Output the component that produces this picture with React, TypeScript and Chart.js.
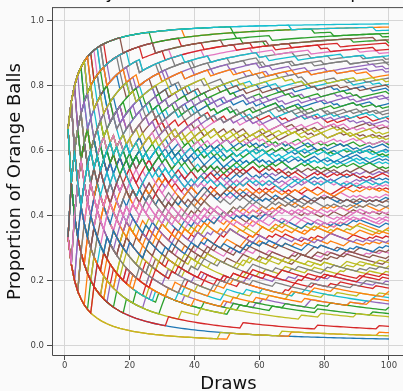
import { useEffect, useRef } from 'react';
import { Chart, registerables } from 'chart.js';

Chart.register(...registerables);

// ---- data -------------------------------------------------------------
const TITLE = 'Polya Urn (100 draws, 100 steps)';
const X_LABEL = 'Draws';
const Y_LABEL = 'Proportion of Orange Balls';
const X_TICKS = [0, 20, 40, 60, 80, 100];
const Y_TICKS = [0.0, 0.2, 0.4, 0.6, 0.8, 1.0];
const INITIAL_ORANGE = 1;
const INITIAL_BALLS = 2;
const DRAW_COUNT = 100;

// Each path: the 100 draws, hex encoded (bit 1 = orange ball drawn), first draw = most significant bit.
const DRAW_PATHS = [
  '40000 00000 00000 00000 00000',
  '00000 00000 00200 00400 00008',
  'B5E6A 7D9E6 CB375 EAF1D 6B9DC',
  '80120 0A014 30040 01608 48010',
  'FEFBD 7FDFE FBF6F DF7EF EFFBD',
  '58C4A 31926 A460D 9C251 638A4',
  '4A109 03824 C0512 20609 850A4',
  'D7F9B E6BD7 F5EBD 7CF3E BD6F7',
  '00000 00000 01000 02000 00000',
  'FFFFF FFFFF FFFFF FFFFF FFFFF',
  '9A65C 3E4D1 7A5B2 C693A 5D86A',
  'FFFFF FFFF7 FFFFF FFFFF FFFFF',
  'FF7FF FEFFF FFFDF BFFFF FF7FE',
  '94A06 150C2 8360A 29054 C1852',
  '10040 0A008 00402 80030 01080',
  'B6DA7 EF53E 9DB67 7ECDB D5FA6',
  '5A1C6 938E4 6C59A B2607 38A56',
  'FFEF7 DFFBF F7FFE FFDEF BFEFD',
  '20904 0610A 80051 43028 0A042',
  '7AD5C 6B395 E5A79 C6D2B 9E5BA',
  'FD7F6 BEFD7 7F9FE EBDFB D7F5E',
  'A2506 30C19 6A50C 1903A 58603',
  '01002 40800 00300 10004 00020',
  'D6FB9 7E5DB F3BE6 ED7BA 6FD9E',
  '6DA59 B4C36 5E9AC 37A1C D659A',
  '81A04 0520C 90461 20381 4A003',
  'FFBFF FEF7F DFFFB F7FEF FFDF7',
  '952E4 A631C 709A6 4C53A 86952',
  '20090 04102 80044 00A01 10208',
  'FDB7E EF6FD 7FEFB DBF9F FE7DB',
  'C79DA 5BE63 DA376 9E5BA 63DCE',
  '85062 1A409 60C31 09258 430A4',
  'FFFFF FFFFF FFEFF FFFF7 DFFFF',
  'A5C36 91E4A 6B2D1 58A6C 3D94A',
  '1080A 04301 20814 08902 40012',
  'E9B5D 6FA73 DC5E7 B3F96 7AD6B',
  '5C09A 38605 A4D21 6098C 1B506',
  'FFD7F EFBFD F7FEF BFDF7 FEFBE',
  '4090C 18062 0A058 30409 02601',
  '75A9C D26B3 AE576 9C3DA 6B95A',
  'FBD67 ED9FB 7F6ED BAF7E D7BCF',
  '6A15C 38946 C0B25 96A23 51C86',
  '08010 00600 20048 01004 40001',
  'FF7FF FFFEF DFF7F FFBFF F7FFE',
  '9C635 A59C3 E26B1 5A369 C3D46',
  '2904A 50861 0C298 8403A 10609',
  'B6FD5 7AE3D DF6BA 9E7BC ECB7D',
  'FEDFB 7FB6F DF7FE FBE9F EDF7F',
  'A1605 4C982 30A51 96148 52C0A',
  '40600 01028 00C10 80240 00030',
  '9D6B5 E3A76 5FCDA B69E3 7A5DC',
  'C5896 3BA0E 64D52 A96C3 1E5A4',
  'FFFFF FDFFF FFF7F EFFFF FFFFB',
  '0A042 18900 02508 40160 80304',
  'DF6B7 FE7DB B9FE7 7FDAF EBCFD',
  '5E96A B3C74 69A5C D2B69 A6E39',
  'C4A15 906B1 3852C 6A294 15C0A',
  'FFEFB DF7FE FFDFE 7FBFE FEFFD',
  '0940A 20C18 500A4 83021 06098',
  '7D9E7 FB6DE AFD5B E7CBD D6FA7',
  '3C685 A4953 E1A61 592C6 8A356',
  '02090 80140 0A500 00418 20003',
  'D5A79 6E3BC 9A75D B6C3E 5D6A5',
  'FFF7F EFDFF FFFFB F7FFD BFFEF',
  '50C1A 83061 94A03 06285 C0491',
  'EF7BD FD6FB BEFAF 7DFEB F6DFE',
  '69AC5 D43A6 5B19C A3E26 9645A',
  '308A0 04092 6100C 08501 A0248',
  '9EB6D D5F36 7CEB7 AD6F5 E97CB',
  'FFFFF FFFFF FFFFF FFBFF FFFEF',
  '94C25 0A619 538A4 C1069 25A06',
  '0A080 40001 00902 20040 01060',
  'BE6FD 7DBAF E5D7B F9EB7 DFAEB',
  'AD569 3C8E6 59BAC E463A 6A95C',
  'FDF7E BFEF7 FFDFE EFBDF 7FFED',
  'C084A 09106 320A8 1050C 46021',
  'DA76B 5E9C7 B6DAE 975E6 EBA5D',
  '59A46 8C30E 60B5A 34968 A52C9',
  '00900 00010 40400 00082 00400',
  'FFDFE EFFF7 F7FFE DFEFF FBF7F',
  '6B95A E3DA6 9C756 AD6B9 57C3A',
  '6A481 05C29 A1603 89254 30614',
  'FBE9F D7AFB EFD6F 7EB7D FD5FE',
  '80501 030A0 40924 06005 10284',
  'F6DB9 EA75F BD6EB 79FD6 DCB5E',
  'FFFFB FEFFF FF7FF DFFFF FFFEF',
  '926A1 C4385 6A19C 0D54A 58629',
  '0C480 20018 05204 08030 10980',
  'BAE97 5D7CB E6B3D 9FA5E 7C9D5',
  '569AC 3DA46 C935A 61EC5 A5396',
  '490A1 0C286 50834 A1062 0941A',
  'FEF7D DFBF7 F7EFB BFDEF EFB9F',
  '9E5A6 D3C69 5A79C B63A5 6D9C5',
  '00800 00100 00020 00004 00008',
  'ED7AF BF6DE F7BED DAF7B 7EBF6',
  '65A38 9C165 3AE14 C5896 A2653',
  '390C6 A1852 6C093 1A641 5A90C',
  'D9F6B 7EBF5 AD7E7 FB5DE 6FDAB',
  'FD6FE BFE7F E7FAF FEDBF 7FBED',
  'A75D6 CB93E 6DA75 95ECB 3E69D',
];

// ---- styles -----------------------------------------------------------
const PALETTE = ['#1f77b4', '#ff7f0e', '#2ca02c', '#d62728', '#9467bd', '#8c564b', '#e377c2', '#7f7f7f', '#bcbd22', '#17becf'];
const FONT = '"DejaVu Sans", "Liberation Sans", sans-serif';
const BG = '#fafafa';

function decodeDraws(hex: string): number[] {
  const clean = hex.replace(/\s+/g, '');
  const bits: number[] = [];
  for (const ch of clean) {
    const v = parseInt(ch, 16);
    for (let b = 3; b >= 0; b--) bits.push((v >> b) & 1);
  }
  return bits.slice(0, DRAW_COUNT);
}

function pathPoints(hex: string) {
  const draws = decodeDraws(hex);
  const pts: { x: number; y: number }[] = [];
  let orange = INITIAL_ORANGE;
  let total = INITIAL_BALLS;
  draws.forEach((d, i) => {
    orange += d;
    total += 1;
    pts.push({ x: i + 1, y: orange / total });
  });
  return pts;
}

const bgPlugin = {
  id: 'bg',
  beforeDraw(chart: any) {
    const { ctx, width, height } = chart;
    ctx.save();
    ctx.fillStyle = BG;
    ctx.fillRect(0, 0, width, height);
    ctx.restore();
  },
};

const framePlugin = {
  id: 'frame',
  afterDatasetsDraw(chart: any) {
    const { ctx, chartArea: a } = chart;
    ctx.save();
    ctx.strokeStyle = '#4a4a4a';
    ctx.lineWidth = 1;
    ctx.beginPath();
    ctx.moveTo(a.left + 0.5, a.top - 0.5);
    ctx.lineTo(a.left + 0.5, a.bottom + 0.5);
    ctx.lineTo(a.right, a.bottom + 0.5);
    ctx.moveTo(a.left, a.top - 0.5);
    ctx.lineTo(a.right, a.top - 0.5);
    ctx.lineTo(a.right, a.bottom);
    ctx.stroke();
    ctx.restore();
  },
};

const titlePlugin = {
  id: 'cutTitle',
  afterDraw(chart: any) {
    const { ctx, chartArea: a } = chart;
    ctx.save();
    ctx.font = `18px ${FONT}`;
    ctx.fillStyle = '#111111';
    ctx.textAlign = 'center';
    ctx.textBaseline = 'alphabetic';
    ctx.fillText(TITLE, (a.left + a.right) / 2, -2);
    ctx.restore();
  },
};

export default function App() {
  const ref = useRef<HTMLCanvasElement | null>(null);

  useEffect(() => {
    if (!ref.current) return;
    const datasets = DRAW_PATHS.map((p, i) => ({
      data: pathPoints(p),
      borderColor: PALETTE[i % PALETTE.length],
      borderWidth: 1.3,
      pointRadius: 0,
      fill: false,
      tension: 0,
      order: -i,
    }));

    const gridCommon = {
      color: '#d6d6d6',
      lineWidth: 1,
      drawTicks: true,
      tickLength: 5,
      tickColor: '#4a4a4a',
      tickWidth: 1,
    };

    const chart = new Chart(ref.current, {
      type: 'line',
      data: { datasets },
      plugins: [bgPlugin, framePlugin, titlePlugin],
      options: {
        responsive: false,
        animation: false,
        devicePixelRatio: 1,
        parsing: false,
        normalized: true,
        layout: { padding: { left: 0, right: 5, top: 5, bottom: 0 } },
        plugins: {
          legend: { display: false },
          tooltip: { enabled: false },
          title: { display: false },
        },
        scales: {
          x: {
            type: 'linear',
            min: -3.95,
            max: 104.95,
            afterBuildTicks: (s: any) => {
              s.ticks = X_TICKS.map((v) => ({ value: v }));
            },
            afterFit: (s: any) => {
              s.height = 36;
            },
            grid: gridCommon,
            border: { display: false },
            ticks: {
              autoSkip: false,
              maxRotation: 0,
              padding: 1,
              color: '#444444',
              font: { family: FONT, size: 8.5 },
              callback: (v: any) => String(v),
            },
            title: {
              display: true,
              text: X_LABEL,
              color: '#111111',
              font: { family: FONT, size: 18, lineHeight: 0.78 },
              padding: { top: 0, bottom: 0 },
            },
          },
          y: {
            type: 'linear',
            min: -0.0296,
            max: 1.0388,
            afterBuildTicks: (s: any) => {
              s.ticks = Y_TICKS.map((v) => ({ value: v }));
            },
            afterFit: (s: any) => {
              s.width = 52;
            },
            grid: gridCommon,
            border: { display: false },
            ticks: {
              autoSkip: false,
              padding: 3,
              color: '#444444',
              font: { family: FONT, size: 8.5 },
              callback: (v: any) => Number(v).toFixed(1),
            },
            title: {
              display: true,
              text: Y_LABEL,
              color: '#111111',
              font: { family: FONT, size: 18, lineHeight: 0.78 },
              padding: { top: 8, bottom: 0 },
            },
          },
        },
      } as any,
    });
    return () => chart.destroy();
  }, []);

  return (
    <div
      style={{
        position: 'fixed',
        left: 0,
        top: 0,
        width: 403,
        height: 391,
        overflow: 'hidden',
        background: BG,
      }}
    >
      <canvas ref={ref} width={410} height={391} style={{ display: 'block', width: 410, height: 391 }} />
    </div>
  );
}
